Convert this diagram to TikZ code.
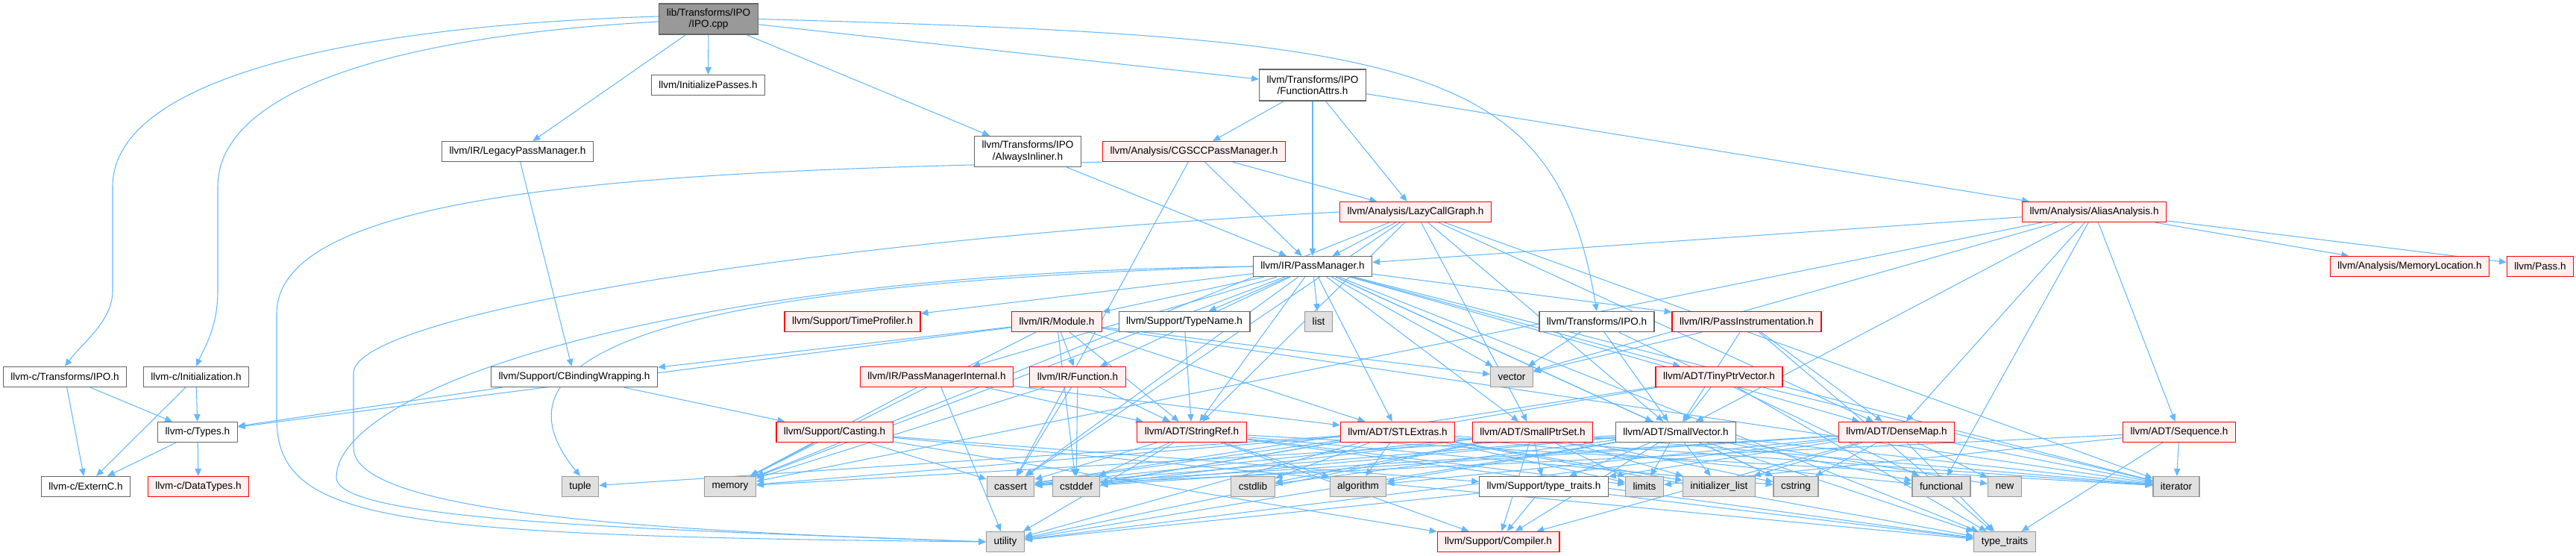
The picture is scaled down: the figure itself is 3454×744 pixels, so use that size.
\documentclass[tikz,border=0pt]{standalone}
\usepackage{fontspec}
\setmainfont{Liberation Sans}
\usepackage{tikz}
\usetikzlibrary{arrows.meta,backgrounds}

\definecolor{edgeblue}{HTML}{63B8FF}
\definecolor{truncred}{HTML}{FF0000}
\definecolor{truncfill}{HTML}{FFF0F0}
\definecolor{sysfill}{HTML}{E0E0E0}
\definecolor{sysline}{HTML}{999999}
\definecolor{hdrline}{HTML}{666666}

\tikzset{
  hdr/.style={draw=hdrline, fill=white, line width=0.35pt, inner xsep=0.1cm, inner ysep=0pt,
    minimum height=0.27cm, font=\fontsize{3.85}{4.3}\selectfont, align=center},
  hdrtrunc/.style={hdr, draw=truncred, fill=truncfill},
  stdhdr/.style={hdr, draw=sysline, fill=sysfill},
  srcfile/.style={hdr, fill=sysline, minimum height=0.41cm},
  incl/.style={draw=edgeblue, line width=0.3pt, -{Triangle[length=2.8pt,width=2.4pt]}},
}

\begin{document}
\begin{tikzpicture}[x=0.01cm,y=-0.01cm]
 \useasboundingbox (0,0) rectangle (3454,744);
 % top of the graph
 \node[srcfile] (root) at (950,25.5) {lib/Transforms/IPO\\/IPO.cpp};
 \node[hdr] (initp) at (949.5,114) {llvm/InitializePasses.h};
 \node[hdr] (legacy) at (694,203) {llvm/IR/LegacyPassManager.h};
 \node[hdr, minimum height=0.42cm] (fattrs) at (1760,114) {llvm/Transforms/IPO\\/FunctionAttrs.h};
 \node[hdr, minimum height=0.41cm] (alwinl) at (1378,203) {llvm/Transforms/IPO\\/AlwaysInliner.h};
 \node[hdrtrunc] (cgscc) at (1601,203) {llvm/Analysis/CGSCCPassManager.h};
 \node[hdrtrunc] (lcg) at (1898,284) {llvm/Analysis/LazyCallGraph.h};
 \node[hdrtrunc] (aa) at (2808,284) {llvm/Analysis/AliasAnalysis.h};
 \node[hdr] (pm) at (1760,357) {llvm/IR/PassManager.h};
 \node[hdrtrunc] (memloc) at (3231,357) {llvm/Analysis/MemoryLocation.h};
 \node[hdrtrunc] (pass) at (3406,357) {llvm/Pass.h};
 % middle rows
 \node[hdr] (cipo) at (87,505) {llvm-c/Transforms/IPO.h};
 \node[hdr] (cinit) at (263,505) {llvm-c/Initialization.h};
 \node[hdr] (cbind) at (770,505) {llvm/Support/CBindingWrapping.h};
 \node[hdrtrunc] (timeprof) at (1143,431) {llvm/Support/TimeProfiler.h};
 \node[hdrtrunc] (module) at (1417,431) {llvm/IR/Module.h};
 \node[hdr] (typename) at (1588,431) {llvm/Support/TypeName.h};
 \node[stdhdr] (list) at (1768,431) {list};
 \node[hdr] (tipo) at (2141,431) {llvm/Transforms/IPO.h};
 \node[hdrtrunc] (pinstr) at (2342,431) {llvm/IR/PassInstrumentation.h};
 \node[hdrtrunc] (pmint) at (1256,505) {llvm/IR/PassManagerInternal.h};
 \node[hdrtrunc] (func) at (1445,505) {llvm/IR/Function.h};
 \node[stdhdr] (vector) at (2027,505) {vector};
 \node[hdrtrunc] (tinyptr) at (2305,505) {llvm/ADT/TinyPtrVector.h};
 \node[hdr] (ctypes) at (265,579) {llvm-c/Types.h};
 \node[hdrtrunc] (casting) at (1119,579) {llvm/Support/Casting.h};
 \node[hdrtrunc] (strref) at (1598,579) {llvm/ADT/StringRef.h};
 \node[hdrtrunc] (stlext) at (1874,579) {llvm/ADT/STLExtras.h};
 \node[hdrtrunc] (smallptr) at (2055,579) {llvm/ADT/SmallPtrSet.h};
 \node[hdr] (smallvec) at (2247,579) {llvm/ADT/SmallVector.h};
 \node[hdrtrunc] (densemap) at (2543,579) {llvm/ADT/DenseMap.h};
 \node[hdrtrunc] (sequence) at (2922,579) {llvm/ADT/Sequence.h};
 % leaves
 \node[hdr] (externc) at (115,652) {llvm-c/ExternC.h};
 \node[hdrtrunc] (datatypes) at (266,652) {llvm-c/DataTypes.h};
 \node[stdhdr] (tuple) at (778,652) {tuple};
 \node[stdhdr] (memory) at (979,652) {memory};
 \node[stdhdr] (cassert) at (1355,652) {cassert};
 \node[stdhdr] (cstddef) at (1443,652) {cstddef};
 \node[stdhdr] (cstdlib) at (1680,652) {cstdlib};
 \node[stdhdr] (algorithm) at (1821,652) {algorithm};
 \node[hdr] (sttraits) at (2070,652) {llvm/Support/type\_traits.h};
 \node[stdhdr] (limits) at (2205,652) {limits};
 \node[stdhdr] (initlist) at (2305,652) {initializer\_list};
 \node[stdhdr] (cstring) at (2408,652) {cstring};
 \node[stdhdr] (functional) at (2603,652) {functional};
 \node[stdhdr] (newh) at (2688,652) {new};
 \node[stdhdr] (iterator) at (2918,652) {iterator};
 \node[stdhdr] (utility) at (1348,726) {utility};
 \node[hdrtrunc] (compiler) at (2009,726) {llvm/Support/Compiler.h};
 \node[stdhdr] (typetraits) at (2688,726) {type\_traits};

 \begin{pgfonlayer}{background}
 % includes of IPO.cpp
 \draw[incl] ([yshift=1pt]root.west) .. controls (450,35) and (151,110) .. (151,250) -- (151,390)
   .. controls (151,430) and (110,460) .. (cipo.north);
 \draw[incl] ([yshift=-1pt]root.west) .. controls (500,50) and (292,130) .. (292,250) -- (292,390)
   .. controls (292,440) and (272,470) .. (cinit.north);
 \draw[incl] (root.east) .. controls (1900,50) and (2085,80) .. (tipo.north);
 \foreach \t in {legacy,initp,alwinl,fattrs} \draw[incl] (root) -- (\t);
 % C API headers
 \foreach \t in {externc,ctypes} \draw[incl] (cipo) -- (\t);
 \foreach \t in {externc,ctypes} \draw[incl] (cinit) -- (\t);
 \foreach \t in {externc,datatypes} \draw[incl] (ctypes) -- (\t);
 \draw[incl] (legacy) -- (cbind);
 \foreach \t in {ctypes,casting} \draw[incl] (cbind) -- (\t);
 \foreach \t in {memory,cassert,sttraits,compiler,typetraits} \draw[incl] (casting) -- (\t);
 % analysis and transforms headers
 \draw[incl] (alwinl) -- (pm);
 \foreach \t in {cgscc,pm,lcg,aa} \draw[incl] (fattrs) -- (\t);
 \foreach \t in {lcg,pm,cassert} \draw[incl] (cgscc) -- (\t);
 \draw[incl] (cgscc.south west) .. controls (900,228) and (371,250) .. (371,420) -- (371,560)
   .. controls (371,700) and (520,718) .. (utility.west);
 \foreach \t in {pm,strref,cassert,memory,densemap,smallvec,smallptr,iterator} \draw[incl] (lcg) -- (\t);
 \draw[incl] (lcg.west) .. controls (1100,320) and (474,420) .. (474,500) -- (474,600)
   .. controls (474,690) and (900,712) .. (utility.west);
 \foreach \t in {pm,memloc,pass,vector,smallvec,densemap,functional,sequence,memory} \draw[incl] (aa) -- (\t);
 % llvm/IR/PassManager.h
 \foreach \t in {timeprof,module,typename,list,pinstr,pmint,func,strref,stlext,smallptr,smallvec,tinyptr,densemap,vector,cassert,cstring,iterator,memory,typetraits}
   \draw[incl] (pm) -- (\t);
 \draw[incl] (pm.west) .. controls (900,365) and (451,520) .. (451,640)
   .. controls (451,700) and (900,710) .. (utility.west);
 \draw[incl] (pm.west) .. controls (900,380) and (640,470) .. (tuple.north);
 \foreach \t in {ctypes,cbind,func,strref,stlext,vector,cstddef,iterator,memory} \draw[incl] (module) -- (\t);
 \foreach \t in {strref,cassert,cstddef,memory} \draw[incl] (func) -- (\t);
 \foreach \t in {stlext,strref,memory,utility} \draw[incl] (pmint) -- (\t);
 \draw[incl] (typename) -- (strref);
 \foreach \t in {vector,smallvec,densemap,typetraits} \draw[incl] (pinstr) -- (\t);
 \foreach \t in {vector,smallvec,functional} \draw[incl] (tipo) -- (\t);
 \foreach \t in {smallvec,cassert,cstddef,iterator,typetraits} \draw[incl] (tinyptr) -- (\t);
 % ADT headers
 \foreach \t in {compiler,algorithm,cassert,cstddef,cstring,iterator,limits,typetraits,utility} \draw[incl] (strref) -- (\t);
 \foreach \t in {algorithm,cassert,cstddef,cstdlib,functional,initlist,iterator,limits,memory,tuple,typetraits,utility} \draw[incl] (stlext) -- (\t);
 \foreach \t in {compiler,sttraits,cassert,cstddef,cstdlib,cstring,initlist,iterator,limits,utility} \draw[incl] (smallptr) -- (\t);
 \foreach \t in {compiler,sttraits,algorithm,cassert,cstddef,cstdlib,cstring,functional,initlist,iterator,limits,memory,newh,typetraits,utility} \draw[incl] (smallvec) -- (\t);
 \foreach \t in {compiler,sttraits,algorithm,cassert,cstddef,cstring,initlist,iterator,newh,typetraits,utility} \draw[incl] (densemap) -- (\t);
 \foreach \t in {cassert,iterator,limits,typetraits} \draw[incl] (sequence) -- (\t);
 \foreach \t in {compiler,typetraits,utility} \draw[incl] (sttraits) -- (\t);
 \end{pgfonlayer}
\end{tikzpicture}
\end{document}
